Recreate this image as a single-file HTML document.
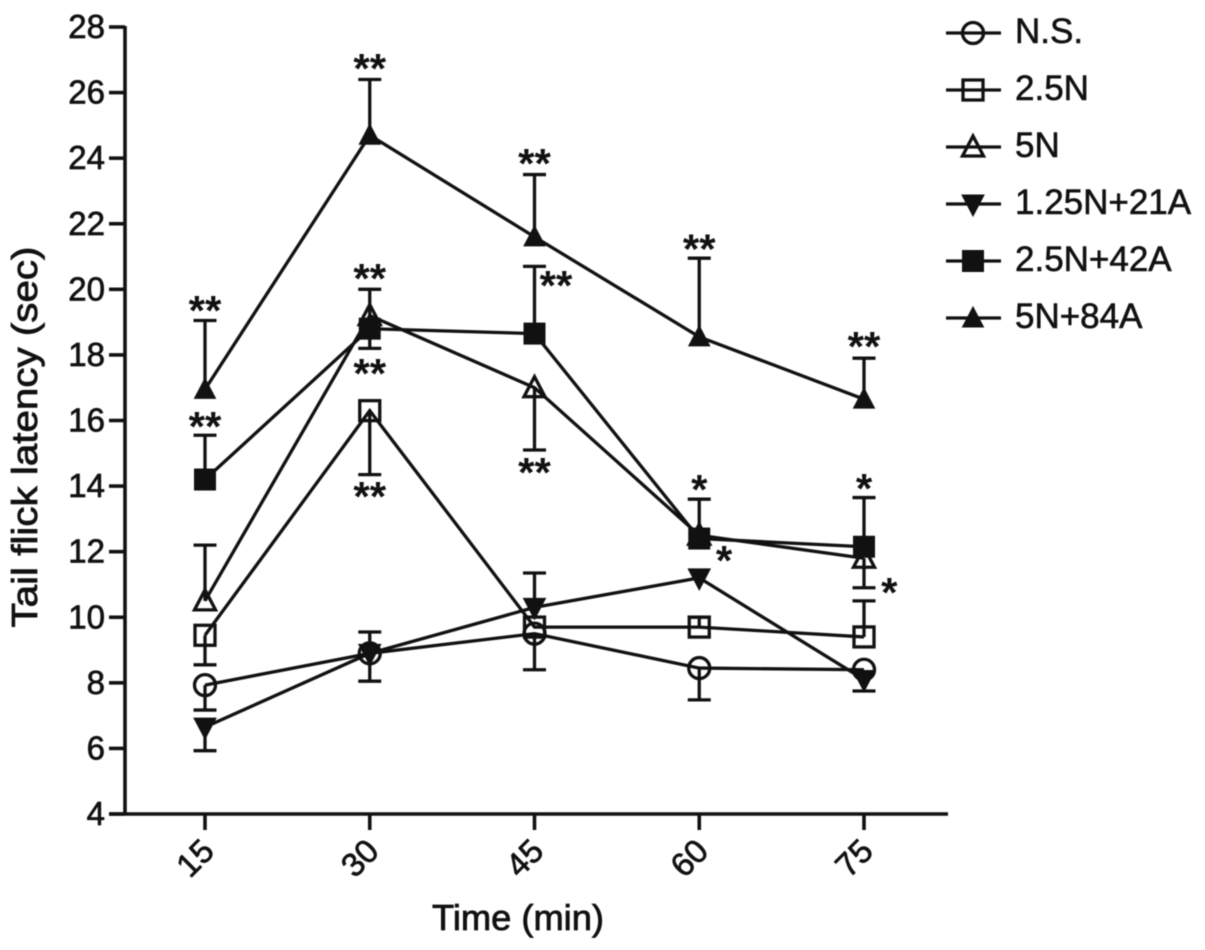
<!DOCTYPE html>
<html>
<head>
<meta charset="utf-8">
<title>Tail flick latency chart</title>
<style>
html,body{margin:0;padding:0;background:#fff;}
svg{display:block;filter:blur(0.5px);}
text{font-family:"Liberation Sans",sans-serif;fill:#111;}
</style>
</head>
<body>
<svg id="chart" xmlns="http://www.w3.org/2000/svg" width="1205" height="950" viewBox="0 0 1205 950"></svg>
<script>
var times = [15, 30, 45, 60, 75];
var yTicks = [4, 6, 8, 10, 12, 14, 16, 18, 20, 22, 24, 26, 28];

var seriesNames = ['N.S.', '2.5N', '5N', '1.25N+21A', '2.5N+42A', '5N+84A'];
var seriesKinds = ['circle', 'square', 'triangle', 'triangle-down-solid', 'square-solid', 'triangle-solid'];

var valuesNS = [7.93, 8.9, 9.5, 8.45, 8.4];
var values25N = [9.45, 16.3, 9.7, 9.7, 9.4];
var values5N = [10.5, 19.2, 17.0, 12.5, 11.8];
var values125N21A = [6.65, 8.9, 10.3, 11.2, 8.1];
var values25N42A = [14.2, 18.8, 18.65, 12.4, 12.15];
var values5N84A = [16.95, 24.7, 21.6, 18.55, 16.65];

var errEndNS = [7.17, 8.05, 8.4, 7.48, 8.4];
var errEnd25N = [8.55, 14.35, 9.7, 10.0, 10.5];
var errEnd5N = [12.2, 20.0, 15.1, 12.5, 10.9];
var errEnd125N21A = [5.93, 9.55, 11.35, 11.2, 7.75];
var errEnd25N42A = [15.55, 18.2, 20.7, 13.6, 13.65];
var errEnd5N84A = [19.05, 26.4, 23.5, 20.95, 17.9];

var annotationTimes = [15, 15, 30, 30, 30, 30, 45, 46.96, 45, 60, 60, 62.26, 75, 75, 77.3];
var annotationValues = [19.52, 15.98, 26.9, 20.5, 17.6, 13.85, 24, 20.28, 14.58, 21.4, 14.06, 11.9, 18.42, 14.09, 10.92];
var annotationLabels = ['**', '**', '**', '**', '**', '**', '**', '**', '**', '**', '*', '*', '**', '*', '*'];

var allValues = [valuesNS, values25N, values5N, values125N21A, values25N42A, values5N84A];
var allErrEnds = [errEndNS, errEnd25N, errEnd5N, errEnd125N21A, errEnd25N42A, errEnd5N84A];

var svg = document.getElementById('chart');
var NS = 'http://www.w3.org/2000/svg';
var STROKE = '#111';

function xScale(t) { return 205 + (t - 15) * (659 / 60); }
function yScale(v) { return 814 - (v - 4) * (787 / 24); }

function make(tag, attrs, parent) {
  var el = document.createElementNS(NS, tag);
  for (var k in attrs) { el.setAttribute(k, attrs[k]); }
  (parent || svg).appendChild(el);
  return el;
}
function line(x1, y1, x2, y2, w, parent) {
  return make('line', {x1: x1, y1: y1, x2: x2, y2: y2, stroke: STROKE, 'stroke-width': w}, parent);
}
function drawMarker(kind, x, y, parent) {
  var solid = kind.indexOf('solid') >= 0;
  var fill = solid ? STROKE : 'none';
  var style = {fill: fill, stroke: STROKE, 'stroke-width': solid ? 1 : 3.3};
  var el;
  if (kind === 'circle') {
    el = make('circle', {cx: x, cy: y, r: 10.5}, parent);
  } else if (kind.indexOf('square') === 0) {
    var half = solid ? 10.5 : 10;
    el = make('rect', {x: x - half, y: y - half, width: half * 2, height: half * 2}, parent);
  } else if (kind.indexOf('triangle-down') === 0) {
    el = make('polygon', {points: (x - 11) + ',' + (y - 9) + ' ' + (x + 11) + ',' + (y - 9) + ' ' + x + ',' + (y + 12)}, parent);
  } else {
    el = make('polygon', {points: (x - 10.5) + ',' + (y + 9) + ' ' + (x + 10.5) + ',' + (y + 9) + ' ' + x + ',' + (y - 11)}, parent);
  }
  for (var s in style) { el.setAttribute(s, style[s]); }
  return el;
}

/* axes */
var axes = make('g', {});



var yAxis = line(125, 26, 125, 815, 3.6, axes);



var xAxis = line(109, 814, 948, 814, 3.6, axes);



yTicks.forEach(function (v) {
  var tick = line(109, yScale(v), 125, yScale(v), 3.6, axes);
  
  
  var label = make('text', {x: 105, y: yScale(v) + 11, 'text-anchor': 'end', 'font-size': 33, stroke: '#111', 'stroke-width': 0.7}, axes);
  label.textContent = v;
  
  
});

times.forEach(function (t) {
  var tick = line(xScale(t), 814, xScale(t), 830, 3.6, axes);
  
  
  var lx = xScale(t) - 2;
  var ly = 866;
  var label = make('text', {x: lx, y: ly, 'text-anchor': 'middle', 'font-size': 33, stroke: '#111', 'stroke-width': 0.7, transform: 'rotate(-45 ' + lx + ' ' + ly + ')'}, axes);
  label.textContent = t;
  
  
});

var xTitle = make('text', {x: 518, y: 930, 'text-anchor': 'middle', 'font-size': 36, stroke: '#111', 'stroke-width': 0.8, textLength: 172, lengthAdjust: 'spacingAndGlyphs'});
xTitle.textContent = 'Time (min)';



var yTitle = make('text', {x: 37, y: 437, 'text-anchor': 'middle', 'font-size': 36, stroke: '#111', 'stroke-width': 0.8, textLength: 381, lengthAdjust: 'spacingAndGlyphs', transform: 'rotate(-90 37 437)'});
yTitle.textContent = 'Tail flick latency (sec)';



/* series */
seriesNames.forEach(function (name, i) {
  var vals = allValues[i];
  var ends = allErrEnds[i];
  var g = make('g', {});
  
  

  times.forEach(function (t, j) {
    if (ends[j] === vals[j]) { return; }
    var bar = line(xScale(t), yScale(vals[j]), xScale(t), yScale(ends[j]), 3.3, g);
    
    
    var cap = line(xScale(t) - 11.5, yScale(ends[j]), xScale(t) + 11.5, yScale(ends[j]), 3.3, g);
    
    
  });

  var pts = times.map(function (t, j) { return xScale(t) + ',' + yScale(vals[j]); }).join(' ');
  var path = make('polyline', {points: pts, fill: 'none', stroke: STROKE, 'stroke-width': 3.3}, g);
  
  

  times.forEach(function (t, j) {
    var m = drawMarker(seriesKinds[i], xScale(t), yScale(vals[j]), g);
    
    
  });
});

/* significance annotations */
annotationLabels.forEach(function (txt, i) {
  var a = make('text', {x: xScale(annotationTimes[i]), y: yScale(annotationValues[i]) + 20, 'text-anchor': 'middle', 'font-size': 42, 'font-weight': 'bold'});
  a.textContent = txt;
  
  
});

/* legend */
var legend = make('g', {});


seriesNames.forEach(function (name, i) {
  var cy = 33 + i * 57;
  var entry = make('g', {}, legend);
  
  
  line(946, cy, 1001, cy, 3.3, entry);
  drawMarker(seriesKinds[i], 973, cy, entry);
  var t = make('text', {x: 1015, y: cy + 10, 'font-size': 35, stroke: '#111', 'stroke-width': 0.6}, entry);
  t.textContent = name;
  
  
});
</script>
</body>
</html>
